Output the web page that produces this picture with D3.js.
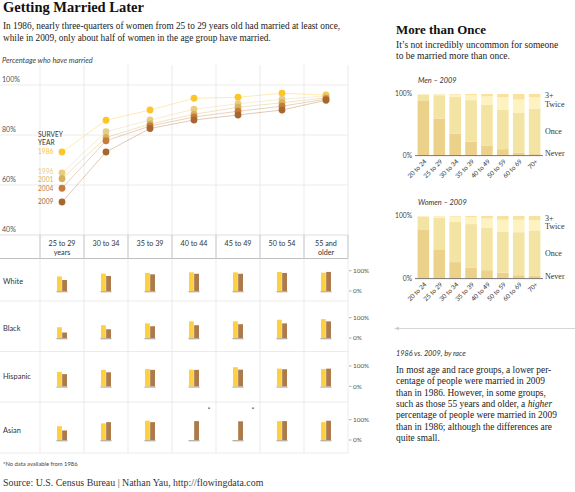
<!DOCTYPE html>
<html><head><meta charset="utf-8">
<script src="https://cdn.jsdelivr.net/npm/d3@7"></script>
<style>body{margin:0;background:#fff} svg{display:block}</style>
</head><body><svg id="c" width="575" height="492"></svg>
<script>
// ---------- DATA ----------
const ageGroups = ["25 to 29 years","30 to 34","35 to 39","40 to 44","45 to 49","50 to 54","55 and older"];
const ageGroupLines = [["25 to 29","years"],["30 to 34"],["35 to 39"],["40 to 44"],["45 to 49"],["50 to 54"],["55 and","older"]];
const surveyYears = ["1986","1996","2001","2004","2009"];
const married1986 = [73.2, 85.9, 90.0, 94.7, 95.1, 96.7, 96.0];
const married1996 = [64.8, 81.3, 86.0, 90.3, 92.5, 94.3, 95.6];
const married2001 = [62.5, 79.0, 84.4, 88.3, 91.1, 92.9, 94.9];
const married2004 = [58.7, 77.7, 83.6, 87.2, 89.5, 91.5, 94.4];
const married2009 = [53.2, 73.2, 82.6, 86.0, 88.0, 90.0, 93.9];
const percentTicks = [40, 60, 80, 100];

const races = ["White","Black","Hispanic","Asian"];
const white1986 = [72, 85, 89, 92, 92, 94, 90];
const white2009 = [54, 74, 82, 85, 85, 89, 94];
const black1986 = [53, 63, 72, 82, 82, 90, 93];
const black2009 = [27, 43, 58, 63, 68, 72, 82];
const hispanic1986 = [71, 81, 85, 82, 94, 87, 85];
const hispanic2009 = [60, 69, 81, 81, 82, 84, 87];
const asian1986 = [68, 82, 95, null, null, 93, 88];
const asian2009 = [47, 88, 88, 93, 92, 93, 95];

const stackAges = ["20 to 24","25 to 29","30 to 34","35 to 39","40 to 49","50 to 59","60 to 69","70+"];
const stackKeys = ["Never","Once","Twice","3+"];
const menNever = [88.6, 60, 35, 22, 16, 10, 4, 2];
const menOnce = [10, 38, 60, 68, 66, 64, 65, 74];
const menTwice = [1, 1.5, 4, 8, 14, 21, 22, 18.5];
const menThreePlus = [0.4, 0.5, 1, 2, 4, 5, 9, 5.5];
const womenNever = [77.5, 46.5, 26, 17, 13, 9, 5, 4];
const womenOnce = [21, 51, 65, 70, 68, 66, 69, 73];
const womenTwice = [1, 2, 8, 11, 15, 19, 20, 16];
const womenThreePlus = [0.5, 0.5, 1, 2, 4, 6, 6, 7];

// ---------- STYLE ----------
const SERIF = "'Liberation Serif', 'DejaVu Serif', serif";
const SANS = "Lato, 'Open Sans', sans-serif";
const yearColor = {"1986":"#fcc629","1996":"#e7cc82","2001":"#d7b25c","2004":"#c67d3b","2009":"#a8662f"};
const C86 = "#fdd03f", C09 = "#ad7b4b";
const stackColor = {"Never":"#ecd18b","Once":"#f3e4a3","Twice":"#fdf2c0","3+":"#f9e29d"};
const gridC = "#e6e6e6", darkGrid = "#b0b0b0";

const svg = d3.select("#c");
function txt(x, y, s, o = {}) {
  const t = svg.append("text").attr("x", x).attr("y", y).text(s)
    .style("font-family", o.ff || SANS).style("font-size", (o.fs || 7) + "px")
    .attr("fill", o.fill || "#333");
  if (o.fw) t.style("font-weight", o.fw);
  if (o.it) t.style("font-style", "italic");
  if (o.anchor) t.attr("text-anchor", o.anchor);
  if (o.dy) t.attr("dy", o.dy);
  return t;
}

// ---------- TITLES ----------
txt(3, 12, "Getting Married Later", {ff: SERIF, fs: 14.5, fw: "bold", fill: "#111"});
txt(3, 29, "In 1986, nearly three-quarters of women from 25 to 29 years old had married at least once,", {ff: SERIF, fs: 9.3, fill: "#222"});
txt(3, 40.5, "while in 2009, only about half of women in the age group have married.", {ff: SERIF, fs: 9.3, fill: "#222"});
txt(2, 62.5, "Percentage who have married", {fs: 7.4, it: true, fill: "#444"});

// ---------- LINE CHART ----------
const xCol = d3.scaleBand().domain(ageGroups).range([40, 348]);
const yLine = d3.scaleLinear().domain([40, 100]).range([235, 85]);
const colEdges = ageGroups.map(a => xCol(a)).concat([xCol.range()[1]]);

colEdges.forEach(x => {
  svg.append("line").attr("x1", x).attr("x2", x).attr("y1", 65).attr("y2", 235).attr("stroke", gridC).attr("stroke-width", 0.8);
});
percentTicks.forEach(t => {
  svg.append("line").attr("x1", 0).attr("x2", 348).attr("y1", yLine(t)).attr("y2", yLine(t)).attr("stroke", t === 40 ? "#d6d6d6" : gridC).attr("stroke-width", 0.8);
  txt(2, yLine(t) - 3.5, t + "%", {fs: 7.1, fill: "#555"});
});
colEdges.forEach(x => {
  svg.append("line").attr("x1", x).attr("x2", x).attr("y1", 235).attr("y2", 258.5).attr("stroke", darkGrid).attr("stroke-width", 0.8);
});
svg.append("line").attr("x1", 0).attr("x2", 348).attr("y1", 258.5).attr("y2", 258.5).attr("stroke", darkGrid).attr("stroke-width", 0.8);
ageGroups.forEach((a, i) => {
  ageGroupLines[i].forEach((l, j) => {
    txt(xCol(a) + xCol.bandwidth() / 2, 246 + j * 9, l, {fs: 7.2, anchor: "middle", fill: "#333"});
  });
});

const lineSeries = [married1986, married1996, married2001, married2004, married2009];
const lineGen = d3.line().x((d, i) => xCol(ageGroups[i]) + xCol.bandwidth() / 2).y(d => yLine(d));
lineSeries.forEach((vals, k) => {
  svg.append("path").attr("d", lineGen(vals)).attr("fill", "none")
    .attr("stroke", yearColor[surveyYears[k]]).attr("stroke-opacity", 0.5).attr("stroke-width", 0.7);
});
lineSeries.forEach((vals, k) => {
  svg.selectAll(null).data(vals).enter().append("circle")
    .attr("cx", (d, i) => xCol(ageGroups[i]) + xCol.bandwidth() / 2)
    .attr("cy", d => yLine(d)).attr("r", 3.4)
    .attr("fill", yearColor[surveyYears[k]]);
});
txt(38, 137, "SURVEY", {fs: 6.6, fill: "#333"});
txt(38, 144.5, "YEAR", {fs: 6.6, fill: "#333"});
{
  const ys = lineSeries.map(v => yLine(v[0]));
  const adj = ys.slice();
  for (let k = 1; k < adj.length; k++) if (adj[k] < adj[k - 1] + 7.6) adj[k] = adj[k - 1] + 7.6;
  const shift = (adj[2] - ys[2]) / 2;
  adj[1] -= shift; adj[2] -= shift;
  lineSeries.forEach((vals, k) => {
    txt(38, adj[k], surveyYears[k], {fs: 6.6, fill: yearColor[surveyYears[k]], dy: "0.35em"});
  });
}

// ---------- RACE BARS ----------
const raceData = [[white1986, white2009],[black1986, black2009],[hispanic1986, hispanic2009],[asian1986, asian2009]];
const rowBase = [291, 338, 386.3, 440];
const rowLines = [301, 351.5, 402, 453];
const barH = 20.3;
colEdges.forEach(x => {
  svg.append("line").attr("x1", x).attr("x2", x).attr("y1", 258.5).attr("y2", 453).attr("stroke", gridC).attr("stroke-width", 0.8);
});
rowLines.forEach(y => {
  svg.append("line").attr("x1", 0).attr("x2", 348).attr("y1", y).attr("y2", y).attr("stroke", gridC).attr("stroke-width", 0.8);
});
races.forEach((r, ri) => {
  const base = rowBase[ri];
  const yb = d3.scaleLinear().domain([0, 100]).range([base, base - barH]);
  txt(3, base - 10, r, {fs: 7.4, fill: "#333", dy: "0.35em"});
  [100, 0].forEach(t => {
    svg.append("line").attr("x1", 349).attr("x2", 351.5).attr("y1", yb(t)).attr("y2", yb(t)).attr("stroke", "#777").attr("stroke-width", 0.6);
    txt(353, yb(t), t + "%", {fs: 6.4, fill: "#555", dy: "0.35em"});
  });
  ageGroups.forEach((a, i) => {
    const c = xCol(a) + xCol.bandwidth() / 2;
    const xs = d3.scaleBand().domain(["1986", "2009"]).range([c - 5, c + 5]).paddingInner(0.06);
    svg.append("line").attr("x1", c - 5.5).attr("x2", c + 5.5).attr("y1", base + 0.7).attr("y2", base + 0.7)
      .attr("stroke", "#b9ae9f").attr("stroke-width", 1.3);
    const vals = [raceData[ri][0][i], raceData[ri][1][i]];
    ["1986", "2009"].forEach((yr, k) => {
      if (vals[k] == null) return;
      svg.append("rect").attr("x", xs(yr)).attr("width", xs.bandwidth())
        .attr("y", yb(vals[k])).attr("height", yb(0) - yb(vals[k]))
        .attr("fill", k === 0 ? C86 : C09);
    });
    if (vals[0] == null) {
      txt(xCol(a) + xCol.bandwidth() - 7, base - 27, "*", {fs: 7, fill: "#555", anchor: "middle"});
    }
  });
});
txt(3, 465.5, "*No data available from 1986", {fs: 5.8, fill: "#444"});
txt(3, 485.5, "Source: U.S. Census Bureau | Nathan Yau, http://flowingdata.com", {ff: SERIF, fs: 9.9, fill: "#333"});

// ---------- RIGHT PANEL ----------
txt(396, 33.5, "More than Once", {ff: SERIF, fs: 12.9, fw: "bold", fill: "#111"});
txt(396, 47.5, "It\u2019s not incredibly uncommon for someone", {ff: SERIF, fs: 9.5, fill: "#222"});
txt(396, 59, "to be married more than once.", {ff: SERIF, fs: 9.5, fill: "#222"});

function stackPanel(title, titleY, top, bottom, never, once, twice, three) {
  txt(418, titleY, title, {fs: 7.4, it: true, fill: "#333"});
  const rows = stackAges.map((a, i) => ({age: a, "Never": never[i], "Once": once[i], "Twice": twice[i], "3+": three[i]}));
  const series = d3.stack().keys(stackKeys)(rows);
  const xs = d3.scaleBand().domain(stackAges).range([416, 542]).paddingInner(0.27).paddingOuter(0.1);
  const ys = d3.scaleLinear().domain([0, 100]).range([bottom, top]);
  series.forEach(s => {
    svg.selectAll(null).data(s).enter().append("rect")
      .attr("x", d => xs(d.data.age)).attr("width", xs.bandwidth())
      .attr("y", d => ys(d[1])).attr("height", d => ys(d[0]) - ys(d[1]))
      .attr("fill", stackColor[s.key]);
  });
  svg.append("line").attr("x1", 415).attr("x2", 543).attr("y1", bottom + 0.3).attr("y2", bottom + 0.3).attr("stroke", "#555").attr("stroke-width", 0.8);
  txt(412, ys(100), "100%", {fs: 6.7, fill: "#444", anchor: "end", dy: "0.35em"});
  txt(412, ys(0), "0%", {fs: 6.7, fill: "#444", anchor: "end", dy: "0.35em"});
  stackAges.forEach(a => {
    const cx = xs(a) + xs.bandwidth() / 2;
    svg.append("text").attr("transform", `translate(${cx + 2},${bottom + 5}) rotate(-45)`)
      .attr("text-anchor", "end").attr("dy", "0.35em").text(a)
      .style("font-family", SANS).style("font-size", "6.3px").attr("fill", "#333");
  });
  const last = series.map(s => s[s.length - 1]);
  let prev = -Infinity;
  const lbl = [];
  for (let k = stackKeys.length - 1; k >= 0; k--) {
    let y = ys((last[k][0] + last[k][1]) / 2);
    if (y < prev + 8.5) y = prev + 8.5;
    if (k === 0) y = Math.min(y, bottom - 2);
    prev = y;
    lbl.push([stackKeys[k], y]);
  }
  lbl.forEach(([k, y]) => txt(545, y, k, {ff: SERIF, fs: 8, fill: "#333", dy: "0.35em"}));
}
stackPanel("Men \u2013 2009", 83, 94, 155.3, menNever, menOnce, menTwice, menThreePlus);
stackPanel("Women \u2013 2009", 204.5, 216, 278.3, womenNever, womenOnce, womenTwice, womenThreePlus);

svg.append("line").attr("x1", 397).attr("x2", 575).attr("y1", 328.5).attr("y2", 328.5).attr("stroke", "#ccc").attr("stroke-width", 0.8);
svg.append("path").attr("d", "M394,328.5 L399,326.8 L399,330.2 Z").attr("fill", "#ccc");

txt(396, 355.5, "1986 vs. 2009, by race", {fs: 7.3, it: true, fill: "#333"});
const para = [
  ["In most age and race groups, a lower per-"],
  ["centage of people were married in 2009"],
  ["than in 1986. However, in some groups,"],
  ["such as those 55 years and older, a ", "higher"],
  ["percentage of people were married in 2009"],
  ["than in 1986; although the differences are"],
  ["quite small."]
];
para.forEach((p, i) => {
  const t = txt(396, 373 + i * 11.35, p[0], {ff: SERIF, fs: 9.4, fill: "#222"});
  if (p[1]) t.append("tspan").style("font-style", "italic").text(p[1]);
});
</script>
</body></html>
